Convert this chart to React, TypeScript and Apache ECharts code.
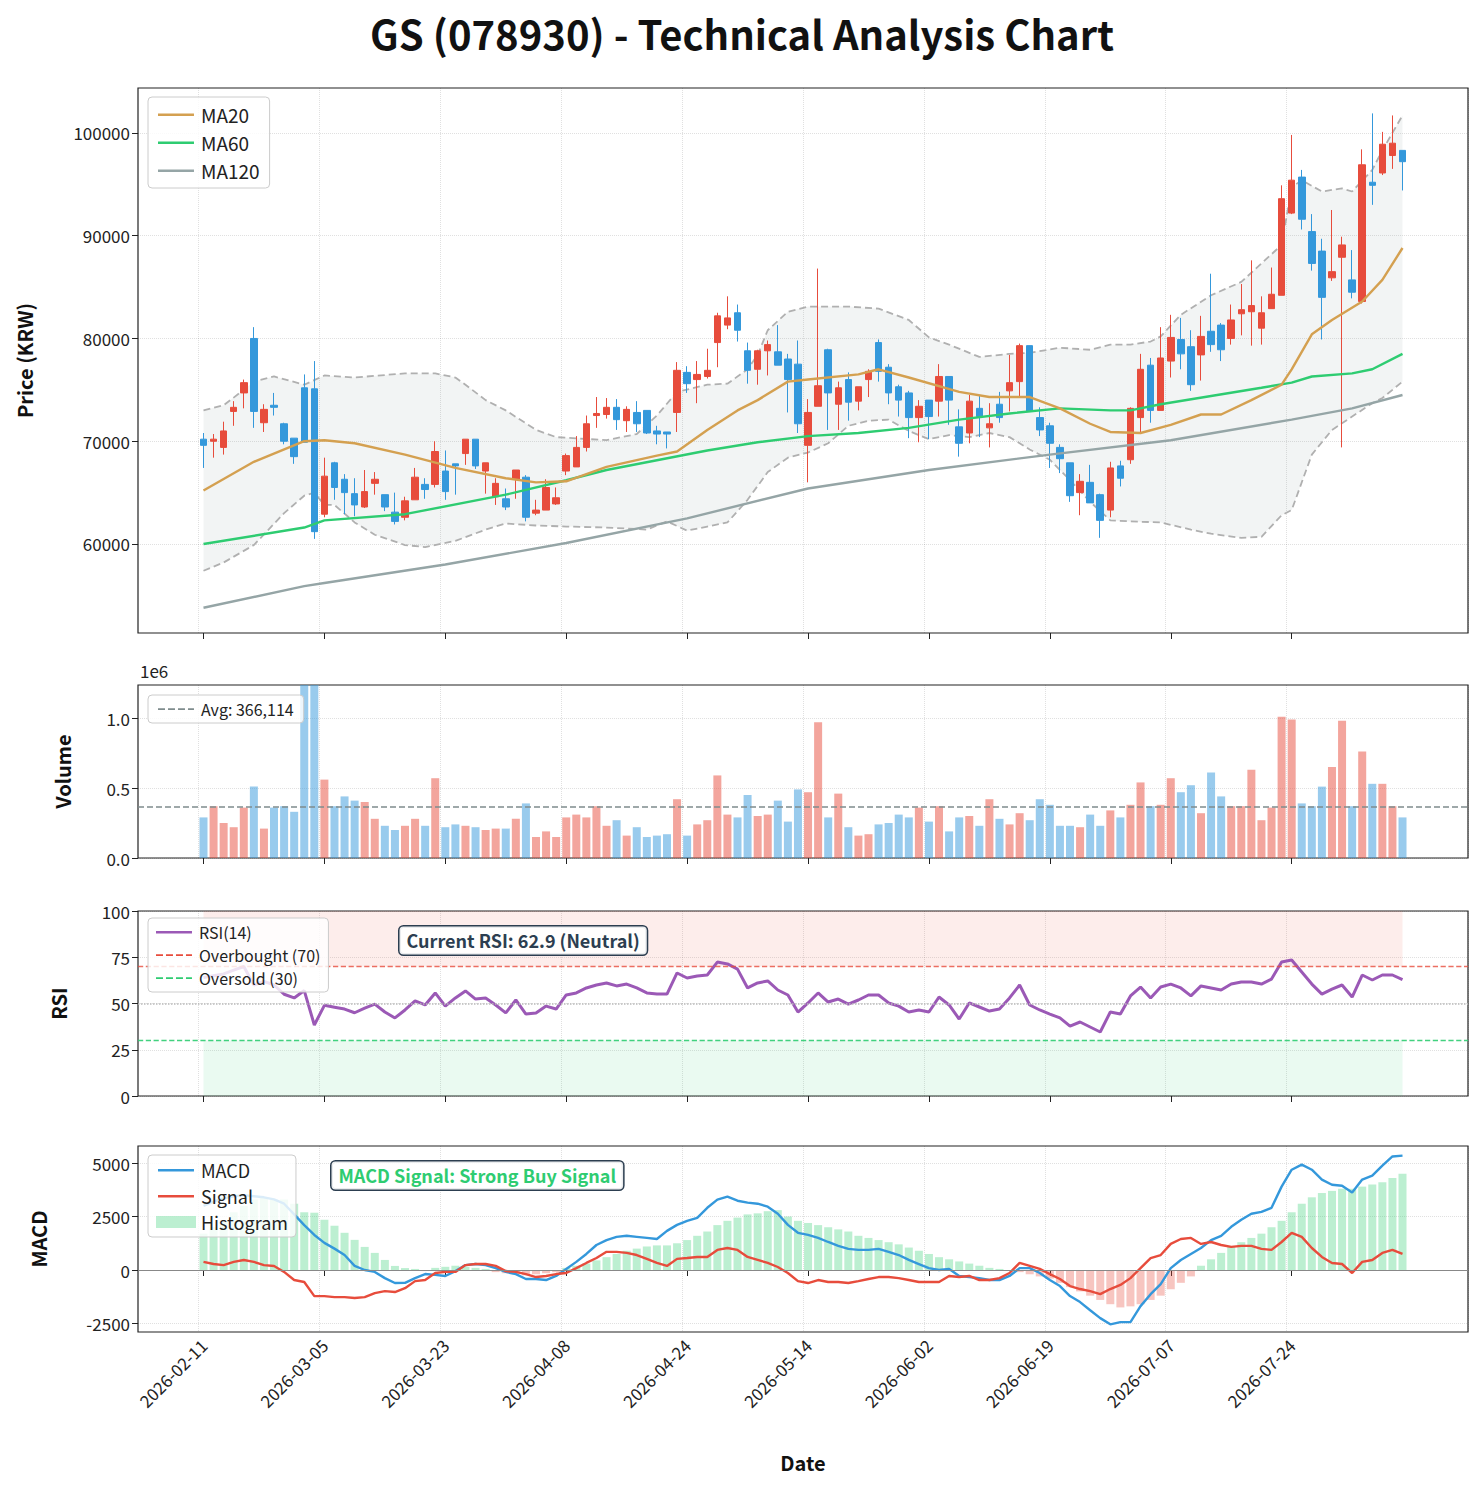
import React, { useEffect, useRef } from "react";
import * as echarts from "echarts";

// prices in thousands of KRW
const PRICE_UNIT = 1000;
const PAD = 6;
const N = 120;

const tickLabels = [
  "2026-02-11", "2026-03-05", "2026-03-23", "2026-04-08", "2026-04-24",
  "2026-05-14", "2026-06-02", "2026-06-19", "2026-07-07", "2026-07-24",
];

const opens = [
  70.2, 70.0, 69.4, 72.9, 74.7, 80.0, 71.8, 73.5, 71.7, 70.3, 75.2, 75.1, 62.9, 67.9, 66.3, 64.9, 63.6, 65.9, 64.8, 63.1,
  62.6, 64.3, 65.8, 65.8, 67.1, 67.8, 68.8, 70.2, 67.1, 64.6, 64.4, 66.3, 66.5, 63.0, 63.3, 63.9, 67.1, 67.5, 69.4, 72.5,
  72.6, 73.3, 72.0, 72.8, 73.0, 71.0, 70.9, 72.8, 76.7, 76.0, 76.3, 79.6, 81.3, 82.5, 78.8, 77.0, 78.8, 78.7, 78.0, 77.5,
  69.6, 73.4, 78.9, 73.6, 76.0, 73.9, 76.0, 79.6, 77.2, 75.3, 74.7, 72.3, 74.0, 73.9, 76.3, 71.4, 70.8, 73.2, 71.3, 73.6,
  74.9, 75.8, 79.3, 72.3, 71.5, 69.4, 67.9, 65.0, 66.0, 64.8, 63.3, 67.6, 68.2, 72.3, 77.4, 73.0, 77.8, 79.9, 79.2, 78.4,
  80.7, 81.3, 80.0, 82.4, 82.6, 81.0, 82.9, 84.2, 92.2, 95.7, 90.4, 88.5, 85.9, 87.9, 85.7, 83.6, 95.2, 96.1, 97.8, 98.3,
];
const closes = [
  69.6, 70.2, 71.0, 73.3, 75.7, 72.9, 73.1, 73.3, 70.0, 68.5, 69.9, 61.2, 66.6, 65.5, 65.0, 63.8, 65.1, 66.3, 63.6, 62.2,
  64.2, 66.5, 65.3, 69.0, 65.1, 67.6, 70.2, 67.6, 67.9, 65.9, 63.6, 67.2, 62.6, 63.3, 65.5, 64.5, 68.6, 69.4, 71.7, 72.7,
  73.3, 72.1, 73.1, 71.7, 70.8, 70.7, 70.7, 76.9, 75.6, 76.5, 76.9, 82.2, 82.0, 80.8, 76.9, 78.8, 79.4, 77.4, 76.0, 71.7,
  72.8, 75.4, 74.7, 75.2, 73.8, 75.3, 76.8, 76.8, 74.7, 74.0, 72.3, 73.4, 72.4, 76.3, 74.0, 69.8, 73.9, 72.4, 71.7, 72.3,
  75.7, 79.3, 72.9, 71.1, 69.8, 68.3, 64.7, 66.1, 64.0, 62.3, 67.4, 66.4, 73.2, 77.0, 73.0, 78.1, 80.1, 78.5, 75.5, 80.2,
  79.4, 78.9, 81.8, 82.8, 83.2, 82.5, 84.3, 93.6, 95.4, 91.6, 87.3, 84.0, 86.5, 89.1, 84.5, 96.9, 94.9, 98.9, 99.0, 97.2,
];
const lows = [
  67.4, 68.4, 68.7, 71.5, 73.2, 71.3, 70.9, 72.5, 69.7, 67.8, 69.9, 60.5, 62.6, 64.3, 62.9, 62.7, 63.5, 64.8, 63.2, 61.9,
  62.3, 64.3, 64.4, 65.5, 64.3, 64.8, 67.7, 67.3, 64.9, 63.8, 63.3, 64.4, 62.2, 62.8, 63.3, 63.8, 66.7, 67.5, 69.0, 71.3,
  72.2, 71.1, 70.9, 70.9, 70.7, 69.7, 69.3, 70.9, 74.7, 73.7, 76.1, 77.2, 80.9, 79.7, 75.6, 75.5, 76.4, 77.4, 72.8, 70.8,
  66.0, 73.4, 71.1, 71.1, 72.0, 73.0, 74.3, 75.8, 73.6, 72.4, 70.3, 69.9, 70.2, 72.4, 71.6, 68.5, 69.8, 70.4, 69.4, 71.8,
  72.9, 74.4, 72.9, 70.5, 67.4, 66.9, 64.1, 62.8, 64.0, 60.6, 62.6, 65.6, 67.8, 70.7, 71.8, 73.0, 76.2, 77.0, 74.9, 75.9,
  78.7, 77.8, 79.4, 80.3, 79.3, 79.4, 82.9, 84.2, 92.1, 90.6, 86.6, 79.9, 85.6, 69.4, 83.9, 83.4, 93.0, 95.9, 96.5, 94.4,
];
const highs = [
  70.8, 70.7, 71.9, 73.9, 76.0, 81.1, 73.6, 74.7, 71.8, 70.3, 76.5, 77.8, 68.4, 68.0, 66.8, 66.4, 67.2, 67.0, 64.8, 65.0,
  64.6, 67.4, 66.4, 70.0, 69.1, 67.8, 70.2, 70.2, 67.9, 66.4, 65.4, 67.2, 66.7, 64.3, 66.3, 65.5, 68.8, 70.5, 72.5, 74.3,
  74.2, 74.1, 73.4, 73.9, 73.0, 71.5, 70.9, 77.7, 77.3, 77.8, 79.0, 82.5, 84.1, 83.3, 79.6, 78.9, 79.8, 81.3, 78.5, 79.8,
  74.1, 86.8, 79.0, 75.8, 76.7, 75.3, 77.0, 79.9, 77.5, 75.5, 74.9, 74.0, 74.0, 77.5, 76.3, 73.1, 74.5, 74.5, 73.7, 74.8,
  78.4, 79.5, 79.3, 73.3, 71.8, 69.7, 67.9, 66.8, 67.7, 64.9, 68.0, 68.1, 73.3, 78.5, 78.1, 81.1, 82.3, 82.0, 80.8, 82.2,
  86.3, 81.5, 83.3, 85.3, 87.6, 84.1, 86.9, 94.9, 99.8, 96.4, 92.1, 89.7, 92.5, 89.9, 88.6, 98.4, 101.9, 100.1, 101.7, 98.3,
];

// volume in millions of shares
const volumes = [
  0.29, 0.37, 0.25, 0.22, 0.36, 0.51, 0.21, 0.36, 0.37, 0.33, 1.4, 1.6, 0.56, 0.37, 0.44, 0.41, 0.4, 0.28, 0.23, 0.2,
  0.23, 0.28, 0.23, 0.57, 0.22, 0.24, 0.23, 0.22, 0.2, 0.21, 0.21, 0.28, 0.39, 0.15, 0.19, 0.15, 0.29, 0.31, 0.29, 0.37,
  0.23, 0.27, 0.16, 0.22, 0.15, 0.16, 0.17, 0.42, 0.16, 0.24, 0.27, 0.59, 0.31, 0.29, 0.45, 0.3, 0.31, 0.41, 0.26, 0.49,
  0.47, 0.97, 0.29, 0.46, 0.22, 0.16, 0.17, 0.24, 0.25, 0.31, 0.29, 0.36, 0.26, 0.37, 0.19, 0.29, 0.3, 0.23, 0.42, 0.28,
  0.24, 0.32, 0.27, 0.42, 0.38, 0.23, 0.23, 0.22, 0.31, 0.23, 0.34, 0.29, 0.38, 0.54, 0.37, 0.38, 0.57, 0.47, 0.52, 0.32,
  0.61, 0.44, 0.37, 0.37, 0.63, 0.27, 0.36, 1.01, 0.99, 0.39, 0.37, 0.51, 0.65, 0.98, 0.37, 0.76, 0.53, 0.53, 0.37, 0.29,
];
const volumeAvg = 366114;

// [bar index, value in thousands]
const ma20 = [
  [0, 65.2], [5, 68.0], [10, 70.0], [12, 70.1], [15, 69.8], [20, 68.7], [25, 67.4], [30, 66.4], [33, 66.0], [36, 66.1],
  [40, 67.5], [45, 68.6], [47, 69.0], [50, 71.1], [53, 73.0], [55, 74.0], [58, 75.8], [60, 76.0], [65, 76.5], [67, 77.0],
  [70, 76.2], [75, 74.8], [78, 74.3], [82, 74.3], [85, 73.2], [88, 71.7], [90, 70.9], [93, 70.8], [96, 71.6], [99, 72.6],
  [101, 72.6], [104, 74.0], [107, 75.5], [108, 77.0], [110, 80.4], [112, 81.8], [115, 83.6], [117, 85.7], [119, 88.8],
];
const ma60 = [
  [0, 60.0], [10, 61.6], [12, 62.3], [20, 62.9], [30, 64.8], [36, 66.2], [40, 67.2], [50, 69.1], [55, 69.9], [60, 70.5],
  [65, 70.8], [70, 71.3], [75, 72.1], [80, 72.7], [85, 73.2], [90, 73.0], [92, 73.0], [95, 73.6], [100, 74.4], [105, 75.2],
  [108, 75.7], [110, 76.3], [114, 76.6], [116, 77.0], [119, 78.5],
];
const ma120 = [
  [0, 53.8], [10, 55.9], [12, 56.2], [24, 58.0], [36, 60.1], [48, 62.5], [60, 65.4], [72, 67.2], [84, 68.7], [96, 70.1],
  [108, 72.1], [114, 73.2], [119, 74.5],
];
const bbUpper = [
  [0, 73.0], [2, 73.5], [4, 75.0], [5, 75.8], [7, 76.3], [10, 75.5], [12, 76.4], [15, 76.2], [20, 76.6], [23, 76.6],
  [25, 76.2], [26, 75.5], [28, 74.0], [30, 73.0], [33, 71.1], [35, 70.4], [40, 70.1], [43, 70.7], [45, 72.5], [47, 74.8],
  [50, 75.5], [52, 75.6], [54, 77.0], [55, 78.4], [56, 80.8], [58, 82.6], [60, 83.1], [64, 83.1], [67, 82.9], [70, 81.8],
  [72, 80.1], [74, 79.4], [77, 78.2], [80, 78.5], [82, 78.6], [85, 79.1], [88, 78.9], [90, 79.4], [92, 79.4], [94, 79.7],
  [95, 80.2], [97, 82.3], [100, 84.2], [103, 85.5], [106, 88.2], [107, 89.1], [108, 94.7], [109, 95.4], [111, 94.3],
  [113, 94.6], [114, 94.3], [116, 96.4], [117, 98.3], [119, 101.7],
];
const bbLower = [
  [0, 57.4], [2, 58.2], [5, 59.9], [8, 63.0], [10, 64.7], [11, 65.0], [12, 63.8], [13, 63.8], [15, 62.1], [17, 60.9],
  [20, 59.9], [22, 59.7], [25, 60.3], [28, 61.4], [30, 62.0], [33, 61.8], [36, 61.7], [40, 61.6], [44, 61.4], [46, 62.2],
  [48, 61.3], [50, 61.7], [52, 62.1], [54, 64.3], [56, 67.0], [58, 68.4], [60, 68.9], [62, 69.8], [64, 71.5], [66, 72.0],
  [68, 72.1], [70, 71.0], [72, 70.2], [74, 70.6], [76, 70.4], [78, 70.8], [80, 70.4], [82, 69.2], [84, 68.2], [86, 66.2],
  [88, 64.1], [90, 62.3], [92, 62.2], [95, 62.1], [98, 61.4], [100, 61.0], [103, 60.6], [105, 60.7], [107, 62.8],
  [108, 63.3], [110, 68.7], [112, 71.1], [114, 72.4], [116, 73.7], [117, 74.2], [119, 75.8],
];

const rsi = [
  64, 65, 66, 68, 70, 60, 62, 60, 55, 53, 57, 38.4, 49, 48, 47, 45, 47.5, 49.7, 45.4, 42.2,
  46.5, 51.4, 49.2, 55.7, 48.6, 53, 56.8, 52.4, 53, 49.2, 44.9, 51.9, 44.3, 44.9, 48.6, 47, 54.6, 55.7, 58.4, 60,
  61.1, 59.5, 60.5, 58.4, 55.7, 55.1, 55.1, 66.5, 63.8, 64.9, 65.4, 72.4, 71.4, 68.6, 58.4, 61.1, 62.2, 57.3, 54.6, 45.4,
  50.3, 55.7, 50.8, 52.4, 49.7, 51.9, 54.6, 54.6, 50.3, 48.6, 45.4, 46.5, 45.4, 53.5, 49.2, 41.6, 50.3, 48.1, 45.9, 47,
  53, 60, 49.2, 46.5, 44.3, 42.2, 37.8, 40, 37.3, 34.6, 45.4, 44.3, 54.1, 58.9, 53, 58.9, 60.5, 58.4, 54.1, 59.5,
  58.4, 57.3, 60.5, 61.6, 61.6, 60.5, 63.2, 72.4, 73.5, 67, 60.5, 55.1, 57.8, 60, 53.5, 65.4, 62.7, 65.4, 65.4, 62.9,
];

const macd = [
  3000, 3200, 3350, 3450, 3500, 3450, 3400, 3300, 3100, 2600, 2100, 1640, 1270, 1000, 700, 190, 0, -90, -380, -610,
  -600, -380, -190, -230, -280, -50, 230, 280, 230, 90, -90, -190, -420, -420, -470, -280, 50, 380, 750, 1170,
  1400, 1550, 1600, 1550, 1500, 1450, 1830, 2110, 2300, 2440, 2910, 3290, 3430, 3240, 3150, 3100, 2960, 2630, 2110, 1740,
  1640, 1500, 1310, 1130, 990, 940, 940, 990, 850, 700, 470, 280, 90, 0, 50, -280, -330, -380, -470, -470,
  -280, 90, 90, -140, -470, -750, -1220, -1500, -1880, -2250, -2540, -2440, -2440, -1690, -1130, -660, 90, 470, 750, 1030,
  1400, 1600, 2020, 2350, 2630, 2720, 2910, 3900, 4690, 4930, 4690, 4230, 3990, 3940, 3620, 4230, 4410, 4880, 5310, 5350,
];
const signal = [
  380, 280, 230, 380, 470, 380, 230, 190, -90, -470, -560, -1220, -1220, -1270, -1270, -1310, -1270, -1080, -990, -1030,
  -850, -520, -470, -140, -90, -90, 230, 280, 280, 190, -50, -90, -190, -330, -280, -190, -140, 90, 330, 560,
  850, 850, 800, 700, 520, 330, 190, 520, 560, 610, 610, 940, 1030, 940, 610, 470, 330, 140, -140, -520,
  -610, -470, -560, -560, -610, -520, -420, -330, -330, -380, -470, -560, -560, -560, -280, -330, -280, -470, -470, -380,
  -140, 330, 190, 50, -190, -420, -750, -890, -990, -1130, -890, -700, -380, 90, 560, 700, 1220, 1450, 1500, 1220,
  1310, 1170, 1080, 1130, 1130, 990, 940, 1310, 1740, 1550, 1030, 610, 330, 280, -140, 380, 470, 800, 940, 750,
];
const histogram = [
  1700, 2000, 2300, 2700, 3000, 3300, 3400, 3300, 3300, 3100, 2700, 2680, 2350, 2070, 1740, 1410, 1080, 800, 470, 190,
  90, 50, -50, 100, 150, 200, 150, 100, 50, -100, -150, -200, -250, -200, -150, -100, 100, 200, 300, 450,
  600, 750, 900, 1000, 1100, 1150, 1150, 1250, 1400, 1600, 1800, 2100, 2300, 2450, 2600, 2650, 2750, 2800, 2500, 2300,
  2200, 2100, 2000, 1900, 1800, 1600, 1500, 1400, 1300, 1200, 1050, 900, 750, 600, 500, 400, 300, 200, 100, 50,
  0, -100, -200, -300, -400, -600, -800, -1000, -1200, -1400, -1600, -1750, -1700, -1600, -1400, -1200, -900, -600, -300, 200,
  500, 800, 1100, 1300, 1500, 1700, 2000, 2300, 2700, 3100, 3400, 3600, 3700, 3800, 3800, 3900, 4000, 4100, 4300, 4500,
];

const UP = "#e74c3c";
const DOWN = "#3498db";
const FONT = "Noto Sans CJK KR";

// legend icons: a thin bar (or dashes) inside a 40x12 box
const ICON_LINE = "path://M0,0h0.01v0.01h-0.01z M0,5h36v2.4h-36z M36,12h0.01v0.01h-0.01z";
const ICON_DASH = "path://M0,0h0.01v0.01h-0.01z M0,5.3h7v1.6h-7z M10,5.3h7v1.6h-7z M20,5.3h7v1.6h-7z M30,5.3h6v1.6h-6z M36,12h0.01v0.01h-0.01z";

const categories = Array.from({ length: N + 2 * PAD }, (_, i) => {
  const k = (i - PAD) / 12;
  return Number.isInteger(k) && k >= 0 && k < tickLabels.length ? tickLabels[k] : String(i);
});
const isTick = (i: number) => {
  const k = (i - PAD) / 12;
  return Number.isInteger(k) && k >= 0 && k < tickLabels.length;
};
const pad = (arr: any[]) => [...Array(PAD).fill("-"), ...arr, ...Array(PAD).fill("-")];
const pairs = (arr: number[][]) => arr.map(([i, v]) => [i + PAD, v * PRICE_UNIT]);
const up = (i: number) => closes[i] >= opens[i];

const grids = [
  { left: 138, right: 16, top: 88, height: 545 },
  { left: 138, right: 16, top: 685, height: 173 },
  { left: 138, right: 16, top: 911, height: 185 },
  { left: 138, right: 16, top: 1146, height: 186 },
];

export default function App() {
  const ref = useRef<HTMLDivElement>(null);

  useEffect(() => {
    const chart = echarts.init(ref.current!, null, { renderer: "svg" });
    const axisText = { fontFamily: FONT, fontSize: 17, color: "#222" };
    const nameText = { fontFamily: FONT, fontSize: 20, fontWeight: "bold", color: "#111" };
    const grid = "rgba(0,0,0,0.12)";
    const plain = (v: number) => String(v);

    const xAxes = grids.map((_, gi) => ({
      type: "category",
      gridIndex: gi,
      data: categories,
      boundaryGap: true,
      axisLine: { show: false },
      axisTick: { show: true, alignWithLabel: true, interval: (i: number) => isTick(i), length: 6, lineStyle: { color: "#222" } },
      axisLabel: gi === 3
        ? { ...axisText, rotate: 45, interval: (i: number) => isTick(i), margin: 10 }
        : { show: false, interval: (i: number) => isTick(i) },
      splitLine: { show: true, interval: (i: number) => isTick(i), lineStyle: { color: grid, type: "dotted" } },
      name: gi === 3 ? "Date" : "",
      nameLocation: "middle",
      nameGap: 120,
      nameTextStyle: nameText,
    }));

    const yBase = {
      axisLine: { show: false },
      axisTick: { show: true, length: 6, lineStyle: { color: "#222" } },
      splitLine: { show: true, lineStyle: { color: grid, type: "dotted" } },
      nameLocation: "middle",
      nameTextStyle: nameText,
    };
    const priceTicks = [60000, 70000, 80000, 90000, 100000];
    const volumeTicks = [0, 500000, 1000000];
    const macdTicks = [-2500, 0, 2500, 5000];

    const yAxes = [
      {
        ...yBase, type: "value", gridIndex: 0, min: 51340, max: 104370, name: "Price (KRW)", nameGap: 104,
        axisTick: { ...yBase.axisTick, customValues: priceTicks },
        axisLabel: { ...axisText, customValues: priceTicks, formatter: plain },
      },
      {
        ...yBase, type: "value", gridIndex: 1, min: 0, max: 1236000, name: "Volume", nameGap: 66,
        axisTick: { ...yBase.axisTick, customValues: volumeTicks },
        axisLabel: { ...axisText, customValues: volumeTicks, formatter: (v: number) => (v / 1e6).toFixed(1) },
      },
      {
        ...yBase, type: "value", gridIndex: 2, min: 0, max: 100, interval: 25, name: "RSI", nameGap: 70,
        axisLabel: axisText,
      },
      {
        ...yBase, type: "value", gridIndex: 3, min: -2900, max: 5800, name: "MACD", nameGap: 90,
        axisTick: { ...yBase.axisTick, customValues: macdTicks },
        axisLabel: { ...axisText, customValues: macdTicks, formatter: plain },
      },
    ];

    const candleData = pad(opens.map((o, i) => [o * PRICE_UNIT, closes[i] * PRICE_UNIT, lows[i] * PRICE_UNIT, highs[i] * PRICE_UNIT]));
    const volData = pad(volumes.map((v, i) => ({
      value: v * 1e6,
      itemStyle: { color: up(i) ? "rgba(231,76,60,0.5)" : "rgba(52,152,219,0.5)" },
    })));
    const histData = pad(histogram.map((v) => ({
      value: v,
      itemStyle: { color: v >= 0 ? "rgba(46,204,113,0.32)" : "rgba(231,76,60,0.32)" },
    })));

    const legendBase = {
      orient: "vertical",
      left: 148,
      z: 20,
      backgroundColor: "rgba(255,255,255,0.82)",
      borderColor: "#ccc",
      borderWidth: 1,
      borderRadius: 4,
      padding: [8, 10],
      itemGap: 9,
      itemWidth: 40,
      itemHeight: 12,
      textStyle: { fontFamily: FONT, fontSize: 19, color: "#222" },
    };

    const line = (name: string, xi: number, data: any, color: string, width = 2.2, extra: any = {}) => ({
      name, type: "line", xAxisIndex: xi, yAxisIndex: xi, data, symbol: "none",
      lineStyle: { color, width }, itemStyle: { color }, z: 4, ...extra,
    });
    const small = { ...legendBase.textStyle, fontSize: 16 };

    chart.setOption({
      animation: false,
      title: {
        text: "GS (078930) - Technical Analysis Chart",
        left: "center",
        top: 8,
        textStyle: { fontFamily: FONT, fontSize: 40, fontWeight: "bold", color: "#111" },
      },
      grid: grids.map((g) => ({ ...g, show: true, borderColor: "#222", borderWidth: 1.2, backgroundColor: "transparent" })),
      xAxis: xAxes,
      yAxis: yAxes,
      legend: [
        {
          ...legendBase, top: 97,
          data: [{ name: "MA20", icon: ICON_LINE }, { name: "MA60", icon: ICON_LINE }, { name: "MA120", icon: ICON_LINE }],
        },
        { ...legendBase, top: 695, padding: [6, 10], textStyle: small, data: [{ name: "Avg: 366,114", icon: ICON_DASH }] },
        {
          ...legendBase, top: 918, padding: [6, 8], itemGap: 7, textStyle: small,
          data: [{ name: "RSI(14)", icon: ICON_LINE }, { name: "Overbought (70)", icon: ICON_DASH }, { name: "Oversold (30)", icon: ICON_DASH }],
        },
        {
          ...legendBase, top: 1155, padding: [6, 8], itemGap: 8, textStyle: { ...legendBase.textStyle, fontSize: 18 },
          data: [{ name: "MACD", icon: ICON_LINE }, { name: "Signal", icon: ICON_LINE }, { name: "Histogram", icon: "rect" }],
        },
      ],
      graphic: [
        { type: "text", left: 140, top: 662, style: { text: "1e6", font: `17px "${FONT}"`, fill: "#222" } },
        {
          type: "text", left: 398, top: 925,
          style: {
            text: "Current RSI: 62.9 (Neutral)", font: `bold 18px "${FONT}"`, fill: "#2c3e50",
            backgroundColor: "rgba(255,255,255,0.9)", borderColor: "#2c3e50", borderWidth: 1.5, borderRadius: 4, padding: [5, 7],
          },
          z: 100,
        },
        {
          type: "text", left: 330, top: 1160,
          style: {
            text: "MACD Signal: Strong Buy Signal", font: `bold 18px "${FONT}"`, fill: "#2ecc71",
            backgroundColor: "rgba(255,255,255,0.9)", borderColor: "#2c3e50", borderWidth: 1.5, borderRadius: 4, padding: [5, 7],
          },
          z: 100,
        },
      ],
      series: [
        {
          type: "custom", xAxisIndex: 0, yAxisIndex: 0, data: [[0, 0]], silent: true, z: 1,
          renderItem: (_p: any, api: any) => {
            const pts = [
              ...bbUpper.map(([i, v]) => api.coord([i + PAD, v * PRICE_UNIT])),
              ...[...bbLower].reverse().map(([i, v]) => api.coord([i + PAD, v * PRICE_UNIT])),
            ];
            return { type: "polygon", shape: { points: pts }, style: { fill: "rgba(149,165,166,0.12)" } };
          },
        },
        line("BB Upper", 0, pairs(bbUpper), "#aaaaaa", 1.8, { lineStyle: { color: "#b0b0b0", width: 1.8, type: [7, 4] }, z: 2 }),
        line("BB Lower", 0, pairs(bbLower), "#aaaaaa", 1.8, { lineStyle: { color: "#b0b0b0", width: 1.8, type: [7, 4] }, z: 2 }),
        {
          name: "Price", type: "candlestick", xAxisIndex: 0, yAxisIndex: 0, data: candleData, barWidth: 7, z: 3,
          itemStyle: { color: UP, color0: DOWN, borderColor: UP, borderColor0: DOWN, borderWidth: 1 },
        },
        line("MA20", 0, pairs(ma20), "#d4a050", 2.4, { z: 5 }),
        line("MA60", 0, pairs(ma60), "#2ecc71", 2.4),
        line("MA120", 0, pairs(ma120), "#95a5a6", 2.4),
        { name: "Volume", type: "bar", xAxisIndex: 1, yAxisIndex: 1, data: volData, barWidth: 8 },
        {
          name: "Avg: 366,114", type: "line", xAxisIndex: 1, yAxisIndex: 1, data: [], symbol: "none",
          lineStyle: { color: "#7f8c8d", type: "dashed", width: 1.5 }, itemStyle: { color: "#7f8c8d" },
          markLine: { symbol: "none", silent: true, label: { show: false }, lineStyle: { color: "#7f8c8d", type: "dashed", width: 1.5 }, data: [{ yAxis: volumeAvg }] },
        },
        line("RSI(14)", 2, pad(rsi), "#9b59b6", 3, {
          markArea: {
            silent: true,
            data: [
              [{ xAxis: PAD, yAxis: 70, itemStyle: { color: "rgba(231,76,60,0.1)" } }, { xAxis: PAD + N - 1, yAxis: 100 }],
              [{ xAxis: PAD, yAxis: 0, itemStyle: { color: "rgba(46,204,113,0.1)" } }, { xAxis: PAD + N - 1, yAxis: 30 }],
            ],
          },
          markLine: { symbol: "none", silent: true, label: { show: false }, lineStyle: { color: "#bbb", type: "dotted", width: 1.5 }, data: [{ yAxis: 50 }] },
        }),
        {
          name: "Overbought (70)", type: "line", xAxisIndex: 2, yAxisIndex: 2, data: [], symbol: "none",
          lineStyle: { color: "#e74c3c", type: "dashed", width: 1.3 }, itemStyle: { color: "#e74c3c" },
          markLine: { symbol: "none", silent: true, label: { show: false }, lineStyle: { color: "#e74c3c", type: "dashed", width: 1.3, opacity: 0.8 }, data: [{ yAxis: 70 }] },
        },
        {
          name: "Oversold (30)", type: "line", xAxisIndex: 2, yAxisIndex: 2, data: [], symbol: "none",
          lineStyle: { color: "#2ecc71", type: "dashed", width: 1.3 }, itemStyle: { color: "#2ecc71" },
          markLine: { symbol: "none", silent: true, label: { show: false }, lineStyle: { color: "#2ecc71", type: "dashed", width: 1.3, opacity: 0.9 }, data: [{ yAxis: 30 }] },
        },
        {
          name: "Histogram", type: "bar", xAxisIndex: 3, yAxisIndex: 3, data: histData, barWidth: 8,
          itemStyle: { color: "rgba(46,204,113,0.32)" },
          markLine: { symbol: "none", silent: true, label: { show: false }, lineStyle: { color: "#888", type: "solid", width: 1 }, data: [{ yAxis: 0 }] },
        },
        line("MACD", 3, pad(macd), "#3498db", 2.4),
        line("Signal", 3, pad(signal), "#e74c3c", 2.4),
      ],
    });

    return () => chart.dispose();
  }, []);

  return <div ref={ref} style={{ position: "fixed", left: 0, top: 0, width: 1484, height: 1491, background: "#fff" }} />;
}
